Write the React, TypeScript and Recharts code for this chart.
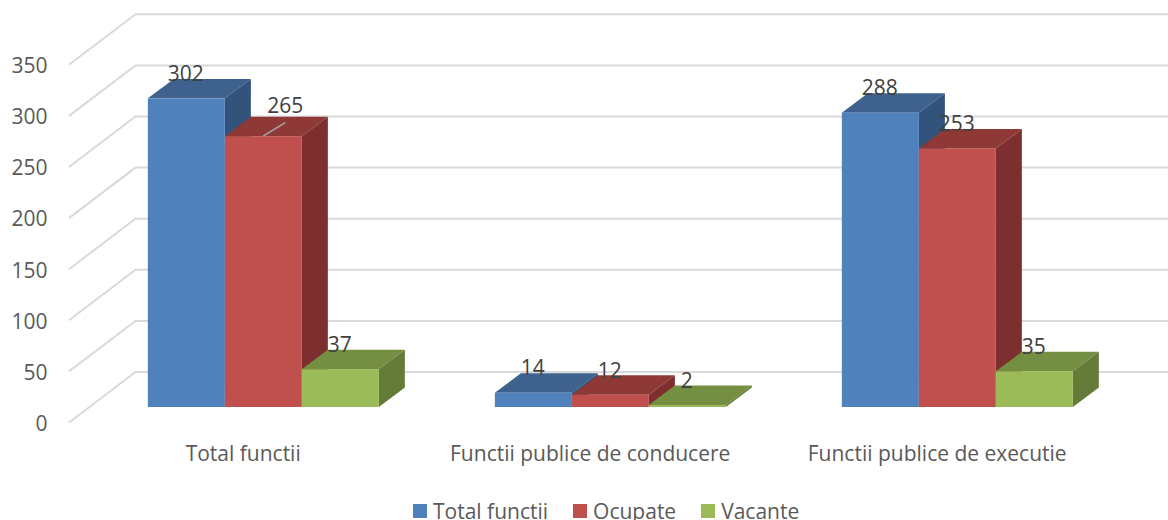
import React from "react";
import { BarChart, Bar, XAxis, YAxis, CartesianGrid, Legend, LabelList } from "recharts";

const categories = ["Total functii", "Functii publice de conducere", "Functii publice de executie"];
const seriesNames = ["Total functii", "Ocupate", "Vacante"];
const totalFunctii = [302, 14, 288];
const ocupate = [265, 12, 253];
const vacante = [37, 2, 35];
const yTicks = [0, 50, 100, 150, 200, 250, 300, 350];

const rows = categories.map((name, i) => ({
  name,
  total: totalFunctii[i],
  ocupate: ocupate[i],
  vacante: vacante[i],
}));

const FONT = "'Open Sans', sans-serif";
const SIZE = 21;
const DX = 26;
const DY = 19.4;

const box = (top: string, side: string) => (p: any) => {
  const { x, y, width, height, fill } = p;
  const r = x + width;
  const b = y + height;
  return (
    <g>
      <polygon points={`${x},${y} ${x + DX},${y - DY} ${r + DX},${y - DY} ${r},${y}`} fill={top} />
      <polygon points={`${r},${y} ${r + DX},${y - DY} ${r + DX},${b - DY} ${r},${b}`} fill={side} />
      <rect x={x} y={y} width={width} height={height} fill={fill} />
    </g>
  );
};

const gridLine = (p: any) => {
  const y = p.y1;
  return (
    <polyline
      key={p.key ?? y}
      points={`69,${y + 15.5} 135.5,${y - 35} 1168,${y - 35}`}
      fill="none"
      stroke="#D9D9D9"
      strokeWidth={2}
    />
  );
};

const barLabel = (p: any) => {
  const { x, y, width, value } = p;
  const cx = x + width / 2 - 0.7;
  const moved = value === 265;
  return (
    <g>
      {moved && (
        <line x1={cx + 0.5} y1={y} x2={cx + 22.5} y2={y - 13.6} stroke="#A6A6A6" strokeWidth={1.5} />
      )}
      <text
        x={moved ? cx + 22.7 : cx}
        y={moved ? y - 31 : y - 25.2}
        textAnchor="middle"
        dominantBaseline="central"
        fontFamily={FONT}
        fontSize={SIZE}
        fill="#404040"
      >
        {value}
      </text>
    </g>
  );
};

const yTick = (p: any) => (
  <text
    x={47.5}
    y={p.y + 15.8}
    textAnchor="end"
    dominantBaseline="central"
    fontFamily={FONT}
    fontSize={SIZE}
    fill="#595959"
  >
    {p.payload.value}
  </text>
);

const xTick = (p: any) => (
  <text
    x={p.x - 20.3}
    y={452.5}
    textAnchor="middle"
    dominantBaseline="central"
    fontFamily={FONT}
    fontSize={SIZE}
    fill="#595959"
  >
    {p.payload.value}
  </text>
);

const legendContent = (p: any) => (
  <div
    style={{
      position: "absolute",
      left: 413,
      top: 0,
      display: "flex",
      gap: 25,
      fontFamily: FONT,
      fontSize: SIZE,
      color: "#595959",
      whiteSpace: "nowrap",
      lineHeight: "28px",
    }}
  >
    {p.payload.map((e: any) => (
      <div key={e.value} style={{ display: "flex", alignItems: "center", gap: 6 }}>
        <span style={{ width: 14, height: 14, background: e.color, display: "inline-block" }} />
        <span>{e.value}</span>
      </div>
    ))}
  </div>
);

export default function App() {
  return (
    <div style={{ position: "absolute", left: 0, top: 0, width: 1168, height: 520, overflow: "hidden" }}>
      <BarChart
        width={1168}
        height={520}
        data={rows}
        margin={{ top: 49.3, right: 37, bottom: 0, left: 0 }}
        barCategoryGap="16.67%"
        barGap={0}
      >
        <CartesianGrid vertical={false} horizontal={gridLine} />
        <XAxis dataKey="name" height={113} axisLine={false} tickLine={false} tick={xTick} interval={0} />
        <YAxis width={90} domain={[0, 350]} ticks={yTicks} axisLine={false} tickLine={false} tick={yTick} />
        <Legend
          content={legendContent}
          itemSorter={(e: any) => seriesNames.indexOf(e.value)}
          wrapperStyle={{ position: "absolute", left: 0, top: 497, width: 1168, height: 0 }}
        />
        <Bar dataKey="total" name={seriesNames[0]} fill="#4F81BD" isAnimationActive={false} shape={box("#3E618E", "#32537B")}>
          <LabelList dataKey="total" content={barLabel} />
        </Bar>
        <Bar dataKey="ocupate" name={seriesNames[1]} fill="#C0504D" isAnimationActive={false} shape={box("#8F3937", "#7C2F2E")}>
          <LabelList dataKey="ocupate" content={barLabel} />
        </Bar>
        <Bar dataKey="vacante" name={seriesNames[2]} fill="#9BBB59" isAnimationActive={false} shape={box("#748F42", "#647C37")}>
          <LabelList dataKey="vacante" content={barLabel} />
        </Bar>
      </BarChart>
    </div>
  );
}
